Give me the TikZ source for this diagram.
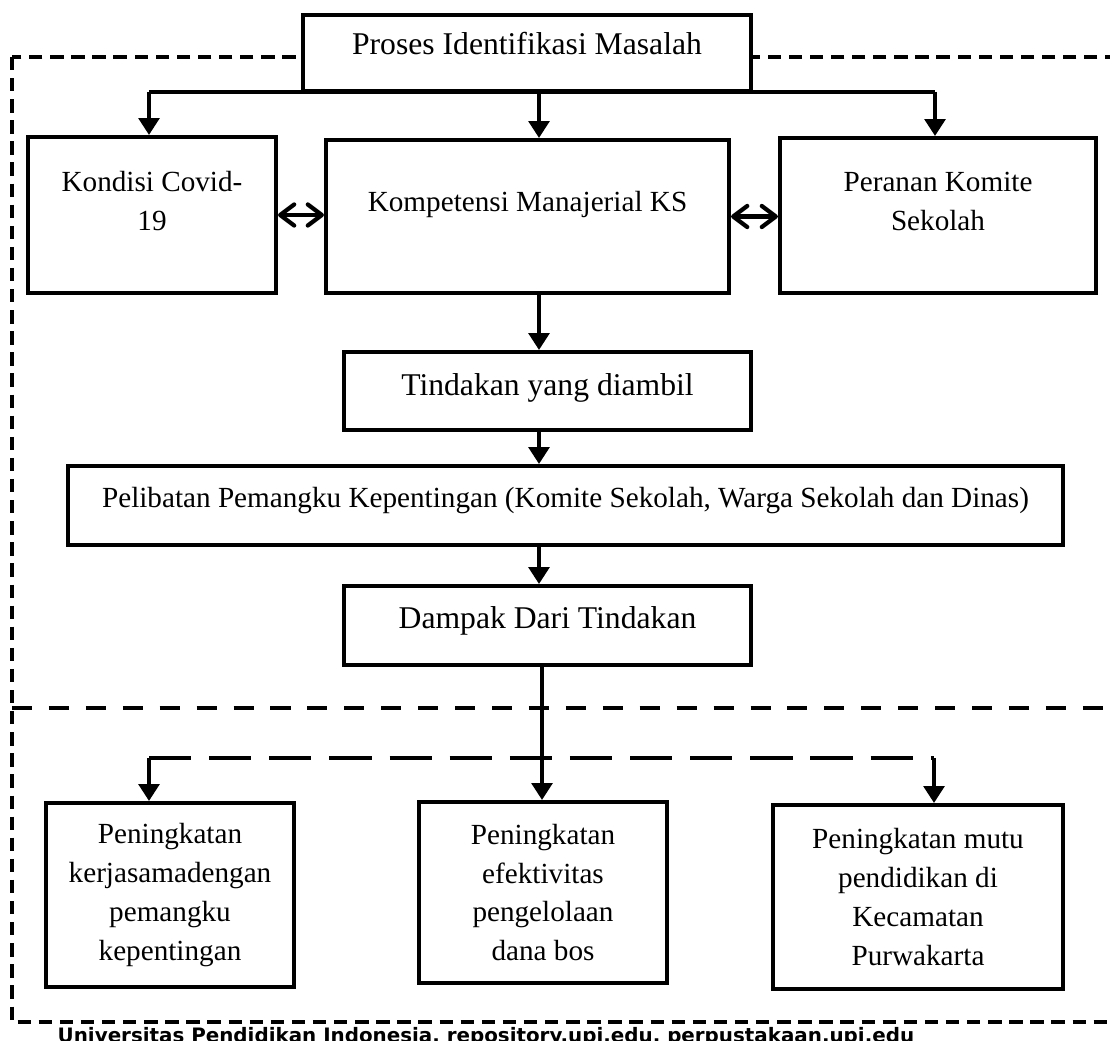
\documentclass[tikz,border=0pt]{standalone}
\usepackage{fontspec}
\setmainfont{Liberation Serif}
\newfontfamily\footfont{DejaVu Sans}
\usepackage{tikz}
\usetikzlibrary{arrows.meta,positioning}
\tikzstyle{box} = [rectangle, draw=black, fill=white, line width=1.1pt, align=center, inner sep=0pt, font=\fontsize{8.3}{11}\selectfont]
\tikzstyle{bigbox} = [box, font=\fontsize{9}{11}\selectfont]
\tikzstyle{line} = [line width=1.3pt]
\tikzstyle{arrow} = [line width=1.3pt, -{Triangle[length=4.8pt,width=5.8pt]}]
\tikzstyle{dblarrow} = [line width=1.2pt, {Straight Barb[length=4pt,width=6pt,round]}-{Straight Barb[length=4pt,width=6pt,round]}]
\tikzstyle{frame} = [line width=1pt, dash pattern=on 3.8pt off 2.2pt]
\tikzstyle{divider} = [line width=1.4pt, dash pattern=on 5.7pt off 4.8pt]
\tikzstyle{branch} = [line width=1.4pt, dash pattern=on 12pt off 5.1pt]

\begin{document}
\begin{tikzpicture}[x=0.01cm, y=-0.01cm]
                        \useasboundingbox (0,0) rectangle (1110,1040);
                        \draw[frame] (12,57) rectangle (1130,1022);
                        \draw[divider] (12,708) -- (1110,708);
                        % upper part
                        \node (masalah) [bigbox, minimum width=4.48cm, minimum height=0.76cm, text depth=5.2pt] at (527,53) {Proses Identifikasi Masalah};
                        \node (kondisi) [box, minimum width=2.48cm, minimum height=1.56cm, text depth=8pt] at (152,215) {Kondisi Covid-\\19};
                        \node (kompetensi) [box, minimum width=4.03cm, minimum height=1.53cm, text depth=8.7pt] at (527.5,216.5) {Kompetensi Manajerial KS};
                        \node (peranan) [box, minimum width=3.16cm, minimum height=1.55cm, text depth=8pt] at (938,215.5) {Peranan Komite\\Sekolah};
                        \node (tindakan) [bigbox, minimum width=4.07cm, minimum height=0.78cm, text depth=3.5pt] at (547.5,391) {Tindakan yang diambil};
                        \node (pelibatan) [box, minimum width=9.95cm, minimum height=0.79cm, text depth=4.5pt] at (565.5,505.5) {Pelibatan Pemangku Kepentingan (Komite Sekolah, Warga Sekolah dan Dinas)};
                        \node (dampak) [bigbox, minimum width=4.07cm, minimum height=0.79cm, text depth=4.3pt] at (547.5,625.5) {Dampak Dari Tindakan};
                        % lower part
                        \node (hasil1) [box, minimum width=2.48cm, minimum height=1.84cm] at (170,895) {Peningkatan\\kerjasamadengan\\pemangku\\kepentingan};
                        \node (hasil2) [box, minimum width=2.48cm, minimum height=1.81cm] at (543,892.5) {Peningkatan\\efektivitas\\pengelolaan\\dana bos};
                        \node (hasil3) [box, minimum width=2.90cm, minimum height=1.84cm] at (918,897) {Peningkatan mutu\\pendidikan di\\Kecamatan\\Purwakarta};
                        \node (footer) [anchor=base west, inner sep=0pt, font=\footfont\bfseries\fontsize{5.65}{7}\selectfont] at (57,1042) {Universitas Pendidikan Indonesia, repository.upi.edu, perpustakaan.upi.edu};
                        \coordinate (axis) at (539,0);
                        \coordinate (kl) at (149,92);
                        \coordinate (kr) at (935,92);
                        \coordinate (bl) at (149,758);
                        \coordinate (split) at (542,758);
                        \coordinate (br) at (934,758);
                        \draw[line] (kl) -- (kr);
                        \draw[arrow] (kl) -- (kl |- kondisi.north);
                        \draw[arrow] (axis |- kl) -- (axis |- kompetensi.north);
                        \draw[arrow] (kr) -- (kr |- peranan.north);
                        \draw[dblarrow] (kondisi.east) -- (kondisi.east -| kompetensi.west);
                        \draw[dblarrow] (kompetensi.east) -- (kompetensi.east -| peranan.west);
                        \draw[arrow] (axis |- kompetensi.south) -- (axis |- tindakan.north);
                        \draw[arrow] (axis |- tindakan.south) -- (axis |- pelibatan.north);
                        \draw[arrow] (axis |- pelibatan.south) -- (axis |- dampak.north);
                        \draw[line] (split |- dampak.south) -- (split);
                        \draw[branch] (bl) -- (br);
                        \draw[arrow] (bl) -- (bl |- hasil1.north);
                        \draw[arrow] (split) -- (split |- hasil2.north);
                        \draw[arrow] (br) -- (br |- hasil3.north);
                    \end{tikzpicture}
\end{document}
